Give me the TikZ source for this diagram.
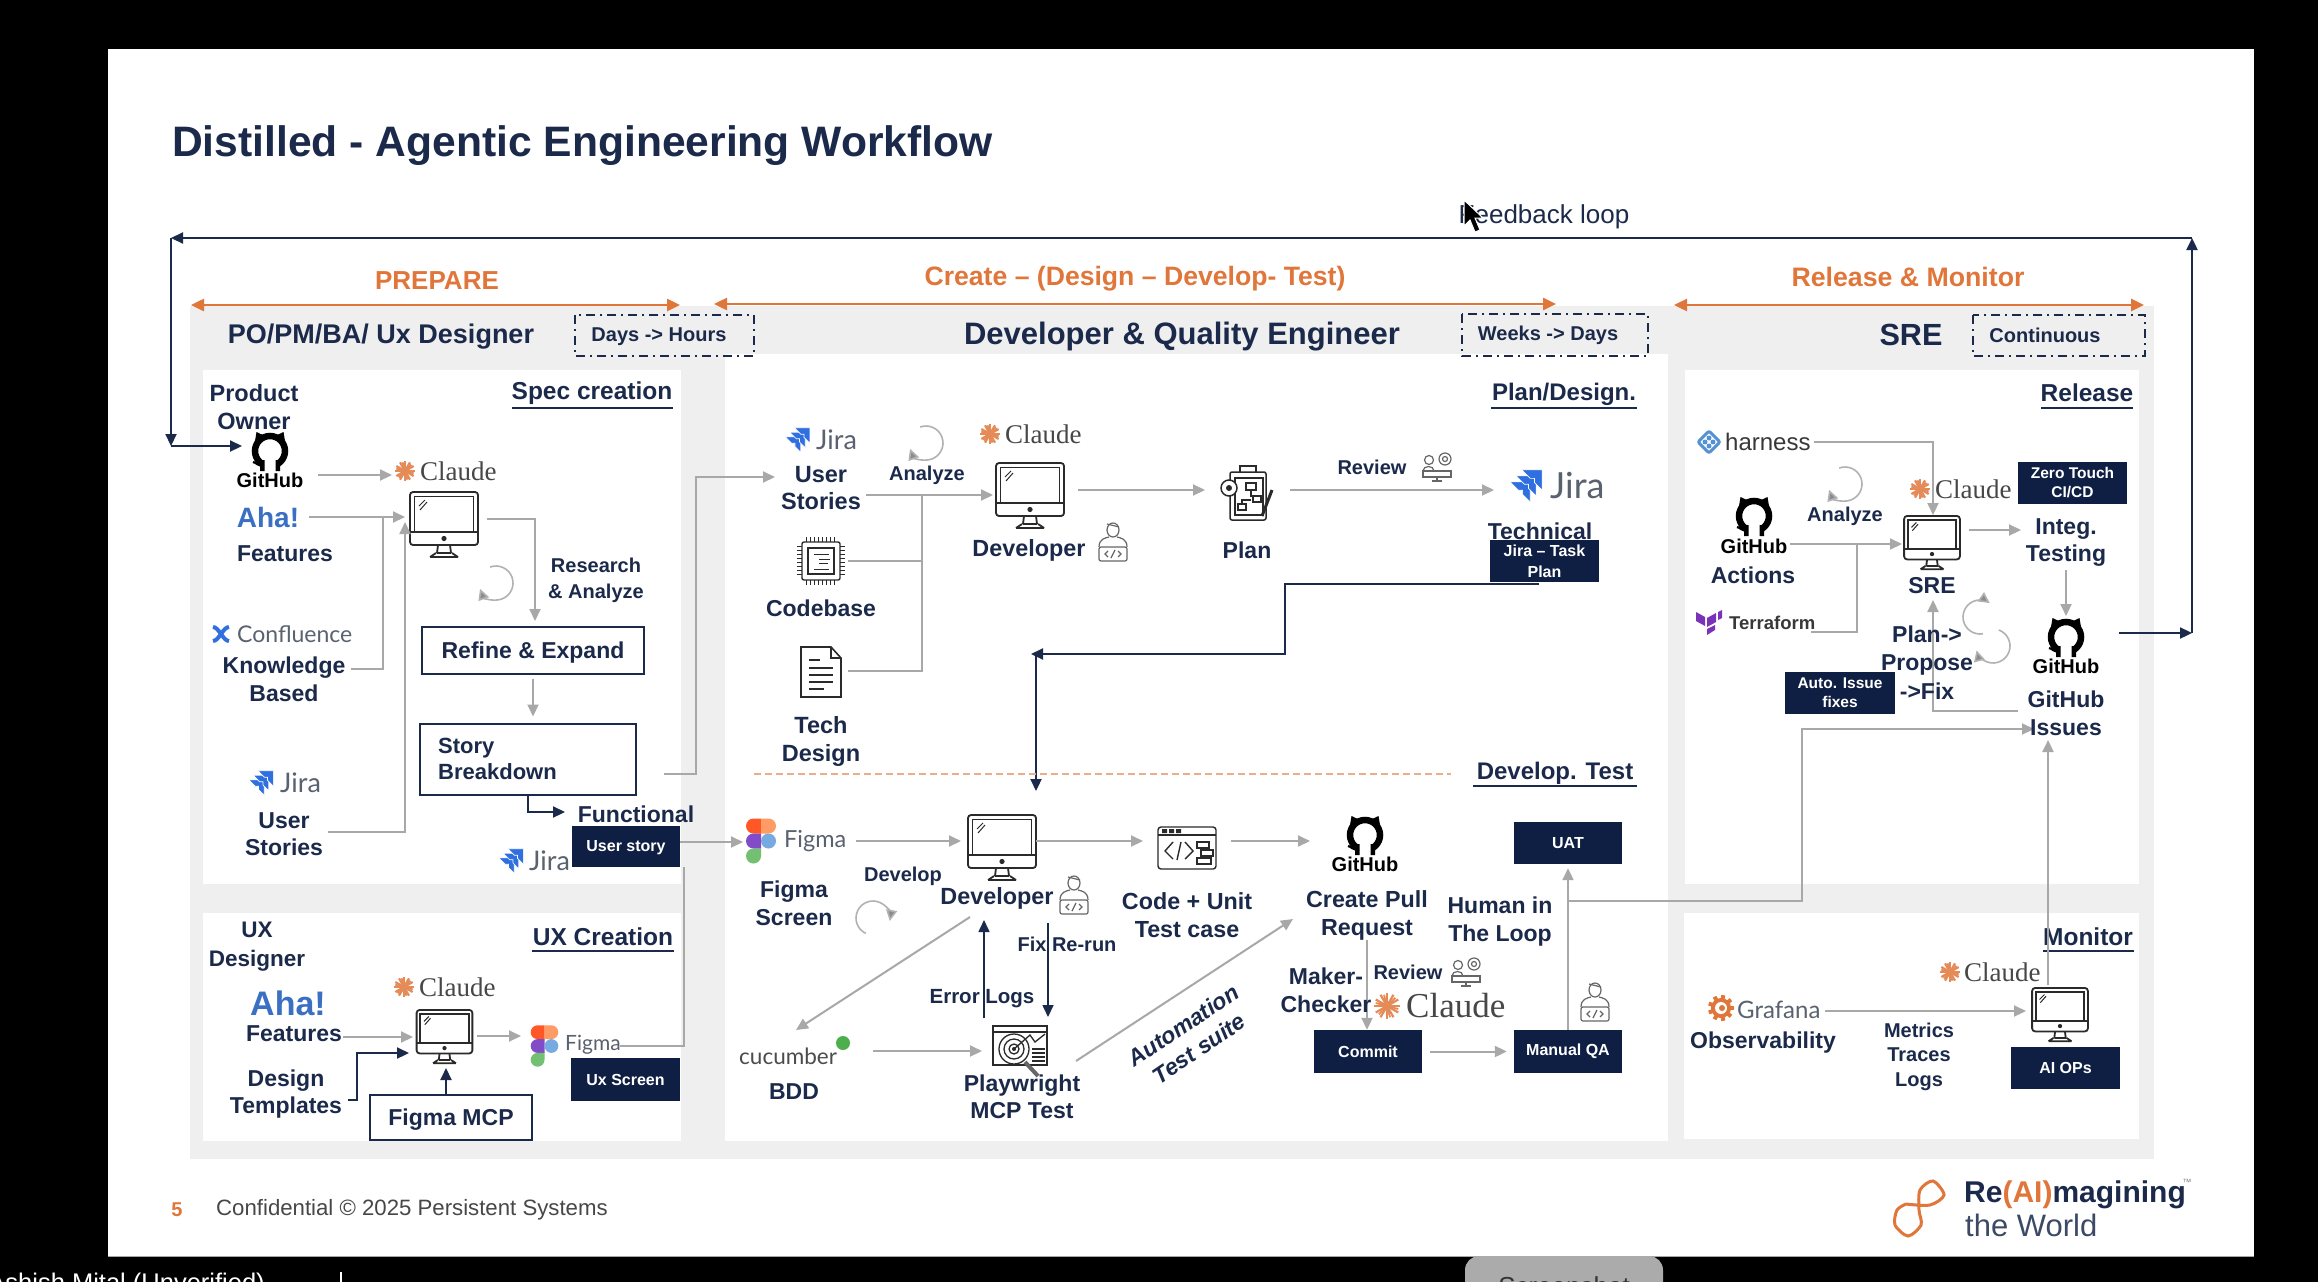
\documentclass[tikz,border=0pt]{standalone}
\usepackage{fontspec}
\setmainfont{Liberation Sans}
\newfontfamily\claudefont{Liberation Serif}
\newfontfamily\logofont{Lato}
\usetikzlibrary{arrows.meta}
\definecolor{navy}{HTML}{1B2A4A}
\definecolor{boxnavy}{HTML}{0F1F44}
\definecolor{org}{HTML}{E0763A}
\definecolor{panel}{HTML}{EFEFEF}
\definecolor{cgray}{HTML}{A8A8A8}
\definecolor{ink}{HTML}{2A2A2A}
\definecolor{logogray}{HTML}{5A6270}
\definecolor{jblue}{HTML}{2F6FE0}
\definecolor{ahablue}{HTML}{3A6FC4}
\tikzset{
 ga/.style={draw=cgray,line width=2pt,-{Triangle[length=12pt,width=11pt]}},
 gl/.style={draw=cgray,line width=2pt},
 na/.style={draw=navy,line width=2.2pt,-{Triangle[length=12pt,width=11pt]}},
 nl/.style={draw=navy,line width=2.2pt},
 oa/.style={draw=org,line width=2.5pt,{Triangle[length=13pt,width=12pt]}-{Triangle[length=13pt,width=12pt]}},
 lab/.style 2 args={font=\fontsize{#1}{#2}\selectfont\bfseries,text=navy,align=center,inner sep=0pt},
 olab/.style={font=\fontsize{#1}{#1}\selectfont\bfseries,text=org,inner sep=0pt},
 plab/.style={font=\fontsize{#1}{#1}\selectfont,text=logogray,inner sep=0pt},
 wbox/.style={draw=navy,line width=2pt,fill=white,inner sep=0pt,text depth=0pt,font=\fontsize{23}{27}\selectfont\bfseries,text=navy},
 nbox/.style={fill=boxnavy,inner sep=0pt,font=\fontsize{16}{20}\selectfont\bfseries,text=white,align=center},
 dbox/.style={draw=navy,line width=2.4pt,dash pattern=on 9pt off 5pt on 2pt off 5pt},
 iconbox/.style={inner sep=0pt,outer sep=0pt},
 sect/.style={draw=navy,line width=2.4pt},
}
\newcommand{\monitor}[4]{%
 \begin{scope}[shift={(#2,#3)},scale=#4,line width=1.8pt,draw=ink]
 \draw[rounded corners=3pt] (-34,-33) rectangle (34,20);
 \draw (-29.5,-28.5) rectangle (29.5,7);
 \draw (-34,7)--(34,7);
 \fill[ink] (0,13.5) circle (2.6);
 \draw (-6,20)--(-7,28) (6,20)--(7,28) (-7,28)--(7,28);
 \draw (-14,32)--(14,32) (-8,28)--(-14,32) (8,28)--(14,32);
 \draw[line width=1pt] (-25,-19)--(-19,-25) (-24,-15)--(-17,-23);
 \end{scope}
 \node[iconbox,minimum width=#4*69pt,minimum height=#4*66pt] (#1) at (#2,#3) {};}
\newcommand{\github}[4]{%
 \begin{scope}[shift={(#2,#3)},scale=#4]
 \draw[black,line width=6.5pt] (0,0) circle (15);
 \fill[white] (-6,9) rectangle (6,20);
 \fill[black] (-15,-10)--(-13.5,-19)--(-5,-15)--cycle (15,-10)--(13.5,-19)--(5,-15)--cycle;
 \fill[black] (-10,9) rectangle (-5.5,20) (5.5,9) rectangle (10,20);
 \draw[black,line width=2.2pt] (-6,14) .. controls (-12,16) and (-14,11) .. (-17,11);
 \end{scope}
 \node[iconbox,minimum width=#4*40pt,minimum height=#4*40pt] (#1) at (#2,#3) {};}
\newcommand{\ghlogo}[5]{% name x ylogo ytext fontsize
 \github{#1}{#2}{#3}{1}
 \node[inner sep=0pt,text=black,font=\fontsize{#5}{#5}\selectfont\bfseries] (#1txt) at (#2,#4) {GitHub};}
\newcommand{\claudelogo}[5]{% name starx textx y fs
 \begin{scope}[shift={(#2,#4)},scale=#5/27]
 \foreach \a in {0,30,...,330}{\draw[color=org!85!white,line width=2.2pt] (0,0)--(\a:10);}
 \foreach \a in {15,75,...,345}{\draw[color=org!85!white,line width=1.8pt] (0,0)--(\a:9);}
 \end{scope}
 \node[anchor=west,inner sep=0pt,text=black!72,font=\claudefont\fontsize{#5}{#5}\selectfont] (#1) at (#3,#4) {Claude};}
\newcommand{\jira}[6]{% name logox textx y logoscale fs
 \begin{scope}[shift={(#2,#4)},scale=#5]
 \foreach \dx/\dy in {-9.5/-2.5,-6/-6,-2.5/-9.5}{
  \fill[jblue,draw=white,line width=0.7pt] (\dx,\dy)--(\dx+12,\dy)--(\dx+12,\dy+12)--(\dx+7.5,\dy+7.5)--(\dx+7.5,\dy+5)--(\dx+5,\dy+5)--cycle;}
 \end{scope}
 \node[anchor=west,plab=#6] (#1) at (#3,#4) {\logofont Jira};}
\newcommand{\figma}[4]{% name x y scale
 \begin{scope}[shift={(#2,#3)},scale=#4]
 \fill[red!55!orange!85!white] (0,-22.5)--(-7.5,-22.5) arc (-90:-270:7.5)--(0,-7.5)--cycle;
 \fill[red!30!orange!60!white] (0,-22.5)--(7.5,-22.5) arc (-90:90:7.5)--(0,-7.5)--cycle;
 \fill[violet!60!blue!70!white] (0,-7.5)--(-7.5,-7.5) arc (-90:-270:7.5)--(0,7.5)--cycle;
 \fill[cyan!60!blue!55!white] (7.5,0) circle (7.5);
 \fill[green!55!black!55!white] (0,7.5)--(-7.5,7.5) arc (-90:-270:7.5) arc (90:0:7.5)--cycle;
 \end{scope}
 \node[iconbox,minimum width=#4*30pt,minimum height=#4*45pt] (#1) at (#2,#3) {};}
\newcommand{\person}[3]{% name x y
 \begin{scope}[shift={(#2,#3)},draw=black!60,line width=1.2pt]
 \draw (0,-13) ellipse (6 and 7);
 \draw (-6,-19)--(6,-16);
 \draw (-14,4) .. controls (-14,-4) and (-8,-5) .. (-4,-6) (14,4) .. controls (14,-4) and (8,-5) .. (4,-6);
 \draw[rounded corners=2pt] (-14,4) rectangle (14,18);
 \draw (-5,8)--(-8,11)--(-5,14) (5,8)--(8,11)--(5,14) (2,7)--(-2,15);
 \end{scope}
 \node[iconbox,minimum width=32pt,minimum height=40pt] (#1) at (#2,#3) {};}
\newcommand{\reviewicon}[3]{%
 \begin{scope}[shift={(#2,#3)},draw=black!60,line width=1.2pt]
 \draw (-8,-8) circle (4.5) (8,-9) circle (6);
 \draw (8,-9) circle (2.5);
 \draw (-14,3) .. controls (-14,-3) and (-3,-3) .. (-3,3);
 \draw (-14,3) rectangle (14,9);
 \draw (0,9)--(0,13) (-5,13)--(5,13);
 \end{scope}
 \node[iconbox,minimum width=32pt,minimum height=28pt] (#1) at (#2,#3) {};}
\newcommand{\loopicon}[6]{% name x y start end r
 \coordinate (#1) at (#2,#3);
 \draw[draw=black!30,line width=1.6pt,-{Triangle[length=11pt,width=11pt,fill=black!45]}] (#1) ++(#4:#6) arc (#4:#5:#6);}
\begin{document}
\begin{tikzpicture}[x=1pt,y=-1pt]
\useasboundingbox (0,0) rectangle (2318,1282);
\clip (0,0) rectangle (2318,1282);
% screen and slide
\fill[black] (0,0) rectangle (2318,1282);
\fill[white] (108,49) rectangle (2254,1256);
\draw[black!35,line width=1pt] (108,1256)--(2254,1256);
\fill[panel] (190,306) rectangle (2154,1159);
\fill[white] (203,370) rectangle (681,884);
\fill[white] (203,913) rectangle (681,1141);
\fill[white] (725,354) rectangle (1668,1141);
\fill[white] (1685,370) rectangle (2139,884);
\fill[white] (1684,913) rectangle (2139,1139);
% title
\node[anchor=west,inner sep=0pt,text=navy,font=\fontsize{42.6}{44}\selectfont\bfseries] (title) at (172,146) {Distilled - Agentic Engineering Workflow};
\node[inner sep=0pt,text=navy,font=\fontsize{26}{26}\selectfont] (fbl) at (1544,217) {Feedback loop};
% feedback loop
\coordinate (fbA) at (2119,633); \coordinate (fbB) at (2192,633); \coordinate (fbC) at (2192,238); \coordinate (fbD) at (171,238); \coordinate (fbE) at (171,446); \coordinate (fbF) at (242,446);
\draw[na] (fbA)--(fbB);
\draw[na] (fbB)--(fbC);
\draw[na] (fbC)--(fbD);
\draw[na] (fbD)--(fbE);
\draw[na] (fbE)--(fbF);
% phase arrows
\coordinate (pa1) at (191,305); \coordinate (pa2) at (680,305);
\coordinate (pb1) at (714,304); \coordinate (pb2) at (1556,304);
\coordinate (pc1) at (1674,305); \coordinate (pc2) at (2144,305);
\draw[oa] (pa1)--(pa2); \draw[oa] (pb1)--(pb2); \draw[oa] (pc1)--(pc2);
\node[olab=26] (prep) at (437,281) {PREPARE};
\node[olab=26.6] (creat) at (1135,279) {Create – (Design – Develop- Test)};
\node[olab=26.7] (relm) at (1908,277) {Release \& Monitor};
% headers
\node[lab={27}{30}] (hdA) at (381,337) {PO/PM/BA/ Ux Designer};
\node[lab={31}{34}] (hdB) at (1182,337) {Developer \& Quality Engineer};
\node[lab={30.6}{34}] (hdC) at (1911,335) {SRE};
\draw[dbox] (575,315) rectangle (754,356);
\draw[dbox] (1462,314) rectangle (1648,356);
\draw[dbox] (1973,315) rectangle (2145,356);
\node[lab={20}{24}] (durA) at (659,337) {Days -> Hours};
\node[lab={20}{24}] (durB) at (1548,335) {Weeks -> Days};
\node[lab={20}{24}] (durC) at (2045,335) {Continuous};
% section titles
\node[lab={24.5}{28}] (sA) at (592,393) {Spec creation};
\draw[sect] (512,408)--(673,408);
\node[lab={24.5}{28}] (sB) at (603,937) {UX Creation};
\draw[sect] (532,951)--(674,951);
\node[lab={24}{28}] (sC) at (1564,394) {Plan/Design.};
\draw[sect] (1491,408)--(1637,408);
\node[lab={24}{28}] (sD) at (1555,773) {Develop. Test};
\draw[sect] (1473,786)--(1637,786);
\node[lab={24.5}{28}] (sE) at (2087,393) {Release};
\draw[sect] (2041,408)--(2133,408);
\node[lab={24.5}{28}] (sF) at (2088,937) {Monitor};
\draw[sect] (2043,951)--(2134,951);
% ---- spec creation
\node[lab={23.5}{28}] (po) at (254,407) {Product\\Owner};
\ghlogo{ghA}{270}{451}{480}{20}
\claudelogo{clA}{405}{420}{471}{27}
\monitor{mA}{444}{525}{1}
\coordinate (a1) at (318,475); \coordinate (a2) at (392,475);
\draw[ga] (a1)--(a2);
\node[inner sep=0pt,text=ahablue,font=\fontsize{28}{30}\selectfont\bfseries] (ahaA) at (268,517) {Aha!};
\node[lab={23}{28}] (fA) at (285,554) {Features};
\coordinate (a3) at (309,517); \coordinate (a4) at (405,517);
\draw[ga] (a3)--(a4);
\begin{scope}[shift={(221,634)}]
 \draw[jblue,line width=4pt] (-8,-7) .. controls (-2,-7) and (2,7) .. (8,7) (-8,7) .. controls (-2,7) and (2,-7) .. (8,-7);
\end{scope}
\node[anchor=west,plab=23] (cfl) at (237,634) {\logofont Confluence};
\node[lab={23}{28}] (kb) at (284,679) {Knowledge\\Based};
\coordinate (a5) at (351,669); \coordinate (a6) at (383,669); \coordinate (a7) at (383,517);
\draw[gl] (a5)--(a6)--(a7);
\jira{jA}{261}{280}{783}{1.3}{27}
\node[lab={23}{27}] (usA) at (284,834) {User\\Stories};
\coordinate (a8) at (328,832); \coordinate (a9) at (405,832); \coordinate (a10) at (405,522);
\draw[ga] (a8)--(a9)--(a10);
\loopicon{lpA}{496}{583}{-110}{160}{17}
\coordinate (a11) at (487,519); \coordinate (a12) at (535,519); \coordinate (a13) at (535,621);
\draw[ga] (a11)--(a12)--(a13);
\node[lab={20}{26}] (ra) at (596,580) {Research\\\& Analyze};
\node[wbox,minimum width=222pt,minimum height=47pt] (refine) at (533,650) {Refine \& Expand};
\node[wbox,minimum width=216pt,minimum height=71pt] (story) at (528,759) {};
\node[lab={22}{26},anchor=west,align=left] (storyt) at (438,759) {Story\\Breakdown};
\draw[ga,shorten <=4pt,shorten >=6pt] (refine.south)--(refine.south |- story.north);
\coordinate (a14) at (528,812); \coordinate (a15) at (565,812);
\draw[na] (story.south -| a14)--(a14)--(a15);
\node[lab={23}{28}] (func) at (636,814) {Functional};
\jira{jB}{511}{529}{861}{1.3}{27}
\node[nbox,minimum width=108pt,minimum height=41pt,text depth=0pt] (usb) at (626,846) {User story};
\coordinate (a16) at (664,774); \coordinate (a17) at (696,774); \coordinate (a18) at (696,477); \coordinate (a19) at (775,477);
\draw[ga] (a16)--(a17)--(a18)--(a19);
\coordinate (a20) at (743,842);
\draw[ga] (usb.east |- a20)--(a20);
% ---- ux creation
\node[lab={22.5}{29}] (uxd) at (257,947) {UX\\Designer};
\node[inner sep=0pt,text=ahablue,font=\fontsize{34}{36}\selectfont\bfseries] (ahaB) at (288,1003) {Aha!};
\node[lab={23}{28}] (fB) at (294,1034) {Features};
\monitor{mB}{444.5}{1037}{0.82}
\claudelogo{clB}{404}{419}{987}{27}
\coordinate (b1) at (343,1037); \coordinate (b2) at (413,1037);
\draw[ga] (b1)--(b2);
\coordinate (b3) at (477,1036); \coordinate (b4) at (521,1036);
\draw[ga] (b3)--(b4);
\figma{fgA}{544.5}{1046}{0.92}
\node[anchor=west,plab=21] (fgAt) at (565,1045) {\logofont Figma};
\node[nbox,minimum width=109pt,minimum height=43pt,text depth=0pt] (uxs) at (625.5,1079.5) {Ux Screen};
\node[lab={23}{27}] (dt) at (286,1094) {Design\\Templates};
\coordinate (b5) at (348,1100); \coordinate (b6) at (357,1100); \coordinate (b7) at (357,1053); \coordinate (b8) at (409,1053);
\draw[na] (b5)--(b6)--(b7)--(b8);
\node[wbox,minimum width=162pt,minimum height=45pt] (fmcp) at (451,1117.5) {Figma MCP};
\coordinate (b9) at (446,1068);
\draw[na] (fmcp.north -| b9)--(b9);
\coordinate (b10) at (620,1046); \coordinate (b11) at (684,1046); \coordinate (b12) at (684,867);
\draw[gl] (b10)--(b11)--(b12);
% ---- plan/design
\jira{jC}{797.5}{816}{440}{1.3}{27}
\node[lab={23.5}{27}] (usC) at (821,488) {User\\Stories};
\loopicon{lpC}{926}{443}{-110}{160}{17}
\node[lab={20}{24}] (anC) at (927,475) {Analyze};
\monitor{mC}{1030}{496}{1}
\claudelogo{clC}{990}{1005}{434}{27}
\coordinate (c1) at (866,495); \coordinate (c2) at (993,495); \coordinate (c3) at (922,495); \coordinate (c4) at (922,671); \coordinate (c5) at (848,671); \coordinate (c6) at (848,561); \coordinate (c7) at (922,561);
\draw[ga] (c1)--(c2);
\draw[gl] (c3)--(c4)--(c5);
\draw[gl] (c6)--(c7);
% chip
\begin{scope}[shift={(821,561)},draw=ink,line width=1.4pt]
 \foreach \t in {-15,-11,...,15}{\draw[line width=1pt] (\t,-24)--(\t,-19) (\t,19)--(\t,24) (-24,\t)--(-19,\t) (19,\t)--(24,\t);}
 \draw[rounded corners=2pt] (-19,-19) rectangle (19,19);
 \draw (-13,-13) rectangle (13,13);
 \draw[line width=1pt] (-7,-7)--(8,-7) (-2,-2)--(9,-2) (-2,2)--(7,2) (-7,8)--(8,8);
\end{scope}
\node[iconbox,minimum width=50pt,minimum height=50pt] (chip) at (821,561) {};
\node[lab={23}{27}] (cb) at (821,608) {Codebase};
% doc
\begin{scope}[shift={(821,672)},draw=ink,line width=1.6pt]
 \draw (-20,-25)--(10,-25)--(20,-14)--(20,25)--(-20,25)--cycle;
 \draw (10,-25)--(10,-14)--(20,-14);
 \draw[line width=1.4pt] (-12,-12)--(-1,-12) (-12,-4)--(12,-4) (-12,3)--(12,3) (-12,10)--(12,10) (-12,17)--(3,17);
\end{scope}
\node[iconbox,minimum width=40pt,minimum height=50pt] (doc) at (821,672) {};
\node[lab={23.5}{28}] (td) at (821,741) {Tech\\Design};
\node[lab={23.4}{27}] (devC) at (1029,550) {Developer};
\person{pC}{1113}{543}
\coordinate (c8) at (1078,490); \coordinate (c9) at (1205,490);
\draw[ga] (c8)--(c9);
% plan icon
\begin{scope}[shift={(1248,492)},draw=ink,line width=1.5pt]
 \draw[rounded corners=2pt] (-18,-20) rectangle (18,28);
 \draw (-8,-20)--(-8,-26)--(8,-26)--(8,-20);
 \draw (-13,-14) rectangle (15,23);
 \draw[fill=white] (-19,-4) circle (8);
 \fill[ink] (-19,-4) circle (3);
 \draw (-2,-9) rectangle (8,-2) (5,4) rectangle (13,10) (-10,12) rectangle (-2,18);
 \draw (3,-2)--(3,4)--(8,4) (-6,12)--(-6,8)--(3,8);
 \draw[line width=3pt] (24,-2)--(14,24);
\end{scope}
\node[iconbox,minimum width=57pt,minimum height=57pt] (plan) at (1248,492) {};
\node[lab={23}{27}] (planT) at (1247,550) {Plan};
\coordinate (c10) at (1290,490); \coordinate (c11) at (1494,490);
\draw[ga] (c10)--(c11);
\node[lab={20}{24}] (rvC) at (1372,467) {Review};
\reviewicon{riC}{1437}{468}
\jira{jD}{1526}{1550}{486}{1.7}{36}
\node[lab={23}{27}] (techT) at (1540,531) {Technical};
\node[nbox,minimum width=109pt,minimum height=42pt,font=\fontsize{16}{21}\selectfont\bfseries] (jtp) at (1544.5,561) {Jira – Task\\Plan};
\coordinate (c12) at (1539,584); \coordinate (c13) at (1285,584); \coordinate (c14) at (1285,654); \coordinate (c15) at (1031,654); \coordinate (c16) at (1036,654); \coordinate (c17) at (1036,791);
\draw[na] (c12)--(c13)--(c14)--(c15);
\draw[na] (c16)--(c17);
\coordinate (c18) at (754,774); \coordinate (c19) at (1451,774);
\draw[draw=org!60!white,line width=2.4pt,dash pattern=on 7pt off 4pt] (c18)--(c19);
% ---- develop test
\figma{fgB}{761}{841}{1}
\node[anchor=west,plab=23.5] (fgBt) at (784,841) {\logofont Figma};
\node[lab={23}{28}] (fs) at (794,903) {Figma\\Screen};
\coordinate (d1) at (856,841); \coordinate (d2) at (961,841);
\draw[ga] (d1)--(d2);
\node[lab={20}{24}] (dvl) at (903,876) {Develop};
\loopicon{lpD}{873}{918}{115}{370}{17}
\monitor{mD}{1002}{848}{1}
\node[lab={23.4}{27}] (devD) at (997,898) {Developer};
\person{pD}{1074}{896}
\coordinate (d3) at (1036,841); \coordinate (d4) at (1143,841);
\draw[ga] (d3)--(d4);
% code icon
\begin{scope}[shift={(1187,848)},draw=ink,line width=1.4pt]
 \draw[rounded corners=3pt] (-29,-21) rectangle (29,21);
 \draw (-29,-13)--(29,-13);
 \fill[ink] (-25,-19) rectangle (-20,-15) (-18,-19) rectangle (-13,-15) (-11,-19) rectangle (-6,-15);
 \draw (-14,-6)--(-22,3)--(-14,11) (-6,-6)--(-10,12)  (-2,-6)--(6,3)--(-2,11);
 \draw (10,-6) rectangle (22,0) (14,2) rectangle (26,8) (10,10) rectangle (24,16);
\end{scope}
\node[iconbox,minimum width=58pt,minimum height=42pt] (code) at (1187,848) {};
\node[lab={23.3}{28}] (cut) at (1187,915) {Code + Unit\\Test case};
\coordinate (d5) at (1231,841); \coordinate (d6) at (1310,841);
\draw[ga] (d5)--(d6);
\ghlogo{ghD}{1365}{835}{864}{20}
\node[lab={23.3}{28}] (cpr) at (1367,915) {Create Pull\\Request};
\node[nbox,minimum width=108pt,minimum height=42pt] (uat) at (1568,843) {UAT};
\node[nbox,minimum width=108pt,minimum height=43pt] (mqa) at (1568,1051.5) {Manual QA};
\node[nbox,minimum width=108pt,minimum height=43pt] (commit) at (1368,1051.5) {Commit};
\node[lab={23}{28}] (hil) at (1500,922) {Human in\\The Loop};
\coordinate (d7) at (1367,940);
\draw[ga] (d7)--(d7 |- commit.north);
\draw[ga,shorten <=8pt,shorten >=7pt] (commit.east)--(mqa.west);
\draw[ga,shorten >=4pt] (mqa.north)--(uat.south);
\coordinate (d8) at (1568,901); \coordinate (d9) at (1802,901); \coordinate (d10) at (1802,729); \coordinate (d11) at (2034,729);
\draw[ga] (d8)--(d9)--(d10)--(d11);
\node[lab={23}{28}] (mc) at (1326,990) {Maker-\\Checker};
\node[lab={20}{24}] (rvD) at (1408,972) {Review};
\reviewicon{riD}{1466}{973}
\claudelogo{clD}{1387}{1406}{1006}{35}
\person{pE}{1595}{1003}
\node[lab={20}{24}] (fix) at (1067,944) {Fix Re-run};
\node[lab={20.5}{24}] (err) at (982,999) {Error Logs};
\coordinate (d12) at (1048,923); \coordinate (d13) at (1048,1017); \coordinate (d14) at (984,1018); \coordinate (d15) at (984,920);
\draw[na,line width=1.6pt] (d12)--(d13);
\draw[na,line width=1.6pt] (d14)--(d15);
\coordinate (d16) at (970,917); \coordinate (d17) at (796,1030);
\draw[ga] (d16)--(d17);
\node[anchor=west,inner sep=0pt,text=black!70,font=\logofont\fontsize{22.5}{23}\selectfont] (cuc) at (739,1056) {cucumber};
\fill[green!55!black!70!white] (843,1043) circle (7);
\node[lab={23}{27}] (bdd) at (794,1092) {BDD};
\coordinate (d18) at (873,1051); \coordinate (d19) at (982,1051);
\draw[ga] (d18)--(d19);
% playwright icon
\begin{scope}[shift={(1020,1045)},draw=ink,line width=1.3pt]
 \draw (-27,-19) rectangle (27,20);
 \draw (-27,-13)--(27,-13);
 \draw (-6,4) circle (15) (-6,4) circle (10) (-6,4) circle (5);
 \fill[ink] (-6,4) circle (2);
 \draw (-6,4)--(10,-10)--(15,-3)--(25,-11);
 \draw (12,4)--(25,4) (12,8)--(25,8) (12,12)--(25,12) (12,16)--(25,16);
 \draw[line width=4pt,draw=black!60] (5,17)--(18,31);
\end{scope}
\node[iconbox,minimum width=55pt,minimum height=40pt] (pw) at (1020,1045) {};
\node[lab={23}{27}] (pwt) at (1022,1096.5) {Playwright\\MCP Test};
\coordinate (d20) at (1076,1061); \coordinate (d21) at (1293,919);
\draw[ga] (d20)--(d21);
\node[lab={23}{28},rotate=34,font=\fontsize{23}{28}\selectfont\bfseries\itshape] (ats) at (1191,1037) {Automation\\Test suite};
% ---- release
\begin{scope}[shift={(1709,442)},draw=cyan!55!blue!70!white,line width=3pt]
 \draw[rounded corners=2pt] (-11,0)--(0,-11)--(11,0)--(0,11)--cycle;
 \fill[cyan!55!blue!70!white] (-4,0) circle (2.5) (4,0) circle (2.5) (0,-4) circle (2.5) (0,4) circle (2.5);
\end{scope}
\node[anchor=west,inner sep=0pt,text=black!78,font=\fontsize{24}{24}\selectfont] (har) at (1725,442) {harness};
\coordinate (e1) at (1814,442); \coordinate (e2) at (1933,442); \coordinate (e3) at (1933,515);
\draw[ga] (e1)--(e2)--(e3);
\loopicon{lpE}{1845}{484}{-110}{160}{17}
\node[lab={20}{24}] (anE) at (1845,516) {Analyze};
\ghlogo{ghE}{1754}{516}{546}{20}
\node[lab={23}{27}] (act) at (1753,575) {Actions};
\coordinate (e4) at (1790,544); \coordinate (e5) at (1902,544); \coordinate (e6) at (1857,544); \coordinate (e7) at (1857,632); \coordinate (e8) at (1811,632);
\draw[ga] (e4)--(e5);
\draw[gl] (e6)--(e7)--(e8);
\begin{scope}[shift={(1709,622)}]
 \fill[violet!70!blue!80!white] (-13,-10)--(-4,-5)--(-4,4)--(-13,-1)--cycle (-2,-4)--(7,-9)--(7,-0)--(-2,5)--cycle (9,-10)--(13,-12)--(13,-4)--(9,-2)--cycle (-2,7)--(6,3)--(6,8)--(-2,13)--cycle;
\end{scope}
\node[anchor=west,inner sep=0pt,text=black!78,font=\fontsize{18.5}{19}\selectfont\bfseries] (tf) at (1729,623) {Terraform};
\monitor{mE}{1932}{543}{0.82}
\claudelogo{clE}{1920}{1935}{489}{27}
\node[nbox,minimum width=109pt,minimum height=42pt,font=\fontsize{15.5}{19}\selectfont\bfseries] (zt) at (2072.5,483) {Zero Touch\\CI/CD};
\node[lab={23}{27}] (sreT) at (1932,586) {SRE};
\coordinate (e9) at (1969,530); \coordinate (e10) at (2021,530);
\draw[ga] (e9)--(e10);
\node[lab={23}{27}] (it) at (2066,542.5) {Integ.\\Testing};
\coordinate (e11) at (2066,570); \coordinate (e12) at (2066,616);
\draw[ga] (e11)--(e12);
\ghlogo{ghF}{2066}{637}{666}{20}
\coordinate (e13) at (2018,711); \coordinate (e14) at (1933,711); \coordinate (e15) at (1933,600);
\draw[ga] (e13)--(e14)--(e15);
\loopicon{lpF}{1980}{617}{80}{305}{17}
\loopicon{lpG}{1993}{646}{-70}{165}{17}
\node[lab={23}{28.5}] (ppf) at (1927,662.5) {Plan->\\Propose\\->Fix};
\node[nbox,minimum width=110pt,minimum height=42pt,font=\fontsize{15.5}{19}\selectfont\bfseries] (aif) at (1840,693) {Auto. Issue\\fixes};
\node[lab={23}{28}] (ghi) at (2066,713) {GitHub\\Issues};
% ---- monitor
\foreach \a in {0,40,...,320}{\draw[org,line width=4pt] (1721,1008) ++(\a:8)--++(\a:5);}
\fill[org] (1721,1008) circle (10);
\fill[white] (1721,1008) circle (6);
\fill[org] (1722,1008) circle (3);
\node[anchor=west,plab=24] (gra) at (1737,1010) {\logofont Grafana};
\node[lab={23}{27}] (obs) at (1763,1043) {Observability};
\coordinate (g1) at (1825,1011); \coordinate (g2) at (2026,1011);
\draw[ga] (g1)--(g2);
\monitor{mG}{2060}{1015}{0.82}
\claudelogo{clG}{1950}{1964}{972}{27}
\node[nbox,minimum width=109pt,minimum height=42pt] (aio) at (2065.5,1068) {AI OPs};
\node[lab={20}{24.5}] (mtl) at (1919,1056.5) {Metrics\\Traces\\Logs};
\coordinate (g3) at (2048,985); \coordinate (g4) at (2048,740);
\draw[ga] (g3)--(g4);
% ---- footer
\node[inner sep=0pt,text=org,font=\fontsize{20}{20}\selectfont\bfseries] (pgn) at (177,1210) {5};
\node[anchor=west,inner sep=0pt,text=black!72,font=\fontsize{22.2}{23}\selectfont] (conf) at (216,1210) {Confidential © 2025 Persistent Systems};
\draw[org,line width=3pt,smooth] plot coordinates {(1906,1204) (1930,1205) (1944,1195) (1933,1181) (1920,1190) (1919,1210) (1921,1225) (1908,1236) (1895,1225) (1897,1210) (1906,1204)};
\node[anchor=west,inner sep=0pt,text=navy,font=\fontsize{30}{31}\selectfont\bfseries] (rw) at (1964,1195) {Re{\color{org}(AI)}magining};
\node[inner sep=0pt,text=black!50,font=\fontsize{9}{9}\selectfont] (tm) at (2187,1182) {™};
\node[anchor=west,inner sep=0pt,text=navy!85!white,font=\fontsize{31}{31}\selectfont] (rw2) at (1965,1225) {the World};
% ---- screen overlay
\node[inner sep=0pt,text=white,font=\fontsize{25.5}{26}\selectfont,anchor=east] (who) at (265,1285) {Ashish Mital (Unverified)};
\draw[white,line width=1.5pt] (341,1272)--(341,1282);
\fill[black!33,rounded corners=14pt] (1465,1256) rectangle (1663,1310);
\node[inner sep=0pt,text=black!80,font=\fontsize{26}{26}\selectfont] (shot) at (1564,1286) {Screenshot};
\draw[white,line width=1pt,fill=black] (1464,200)--(1464,226)--(1470,220)--(1475,232)--(1480,230)--(1475,218)--(1483,218)--cycle;
\end{tikzpicture}
\end{document}
